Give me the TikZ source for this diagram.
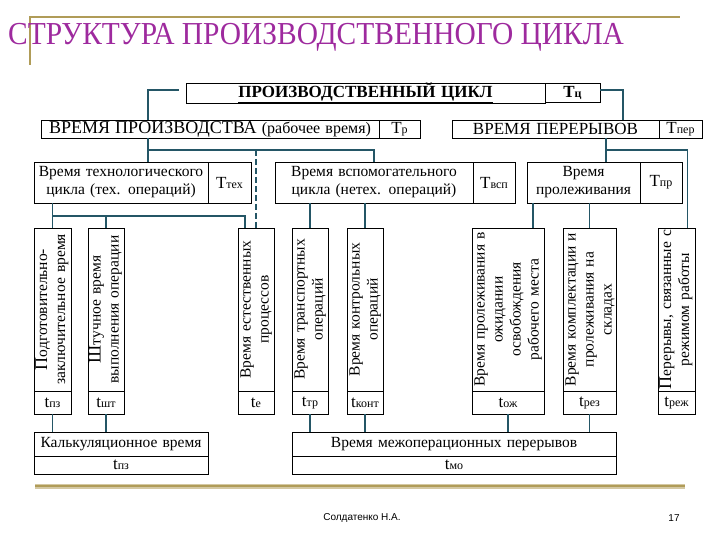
\documentclass[tikz,border=0pt]{standalone}
\usepackage{fontspec}
\usepackage{graphicx}
\setmainfont{Liberation Serif}
\newfontfamily\footfont{Liberation Sans}
\usetikzlibrary{positioning}

\definecolor{linkblue}{RGB}{36,86,102}
\definecolor{framegold}{RGB}{176,156,88}
\definecolor{titlepink}{RGB}{158,42,158}

\newcommand{\tsub}[2]{{\fontsize{17}{18}\selectfont #1}{\fontsize{12}{14}\selectfont #2}}
\newcommand{\vlab}[1]{\rotatebox{90}{\begin{tabular}{@{}c@{}}#1\end{tabular}}}
\newcommand{\bigfirst}[1]{{\fontsize{18}{18}\selectfont #1}}

\begin{document}
\begin{tikzpicture}
		[
		x=1pt, y=-1pt,
		font=\fontsize{15.5}{18}\selectfont,
		cell/.style 2 args={rectangle, draw=black, line width=0.8pt, fill=white, inner sep=0pt, outer sep=0pt, align=center, text width=#1, minimum height=#2},
		link/.style={draw=linkblue, line width=1.8pt},
		capsfont/.style={font=\fontsize{17}{18}\selectfont}
		]
		\useasboundingbox (0,0) rectangle (720,540);
		% frame and title
		\draw[framegold, line width=1.5pt] (30,65) -- (30,17) -- (680,17);
		\draw[framegold!55, line width=5pt] (35,486) -- (685,486);
		\draw[framegold, line width=2.5pt] (35,486) -- (685,486);
		\node[anchor=base west, inner sep=0pt, text=titlepink, font=\fontsize{32}{36}\selectfont] (title) at (8,45) {\scalebox{0.92}[1]{СТРУКТУРА ПРОИЗВОДСТВЕННОГО ЦИКЛА}};
		% upper levels
		\node[cell={359pt}{19pt}, anchor=north west, font=\fontsize{17}{18}\selectfont\bfseries] (pc) at (186,83) {\underline{ПРОИЗВОДСТВЕННЫЙ ЦИКЛ}};
		\node[cell={55pt}{19pt}, right=0pt of pc, font=\fontsize{16}{18}\selectfont\bfseries] (tc) {\tsub{T}{ц}};
		\node[cell={338pt}{18pt}, anchor=north west] (tp) at (41,120) {{\fontsize{18}{18}\selectfont ВРЕМЯ ПРОИЗВОДСТВА} {\fontsize{16}{18}\selectfont (рабочее время)}};
		\node[cell={41pt}{18pt}, right=0pt of tp] (ttp) {\tsub{T}{р}};
		\node[cell={207pt}{18pt}, anchor=north west, capsfont] (tpe) at (452,120) {ВРЕМЯ ПЕРЕРЫВОВ};
		\node[cell={43pt}{18pt}, right=0pt of tpe] (ttpe) {\tsub{T}{пер}};
		\node[cell={174pt}{41pt}, anchor=north west] (tex) at (34,162) {Время технологического\\цикла (тех. операций)};
		\node[cell={43pt}{41pt}, right=0pt of tex] (ttex) {\tsub{T}{тех}};
		\node[cell={198pt}{41pt}, anchor=north west] (vsp) at (275,162) {Время вспомогательного\\цикла (нетех. операций)};
		\node[cell={42pt}{41pt}, right=0pt of vsp] (tvsp) {\tsub{T}{всп}};
		\node[cell={113pt}{41pt}, anchor=north west] (prl) at (527,162) {Время\\пролеживания};
		\node[cell={42pt}{41pt}, right=0pt of prl] (tprl) {\tsub{T}{пр}};
		% elements of the cycle
		\node[cell={37pt}{163pt}, anchor=north west] (v1) at (34,228) {\vlab{\bigfirst{П}одготовительно-\\заключительное время}};
		\node[cell={37pt}{23pt}, below=0pt of v1] (t1) {\tsub{t}{пз}};
		\node[cell={36pt}{163pt}, anchor=north west] (v2) at (88,228) {\vlab{\bigfirst{Ш}тучное время\\выполнения операции}};
		\node[cell={36pt}{23pt}, below=0pt of v2] (t2) {\tsub{t}{шт}};
		\node[cell={36pt}{163pt}, anchor=north west] (v3) at (238,228) {\vlab{Время естественных\\процессов}};
		\node[cell={36pt}{23pt}, below=0pt of v3] (t3) {\tsub{t}{е}};
		\node[cell={36pt}{163pt}, anchor=north west] (v4) at (292,228) {\vlab{Время транспортных\\операций}};
		\node[cell={36pt}{23pt}, below=0pt of v4] (t4) {\tsub{t}{тр}};
		\node[cell={36pt}{163pt}, anchor=north west] (v5) at (347,228) {\vlab{Время контрольных\\операций}};
		\node[cell={36pt}{23pt}, below=0pt of v5] (t5) {\tsub{t}{конт}};
		\node[cell={72pt}{163pt}, anchor=north west] (v6) at (472,228) {\vlab{Время пролеживания в\\ожидании\\освобождения\\рабочего места}};
		\node[cell={72pt}{23pt}, below=0pt of v6] (t6) {\tsub{t}{ож}};
		\node[cell={53pt}{163pt}, anchor=north west] (v7) at (563,228) {\vlab{Время комплектации и\\пролеживания на\\складах}};
		\node[cell={53pt}{23pt}, below=0pt of v7] (t7) {\tsub{t}{рез}};
		\node[cell={37pt}{163pt}, anchor=north west] (v8) at (658,228) {\vlab{\bigfirst{П}ерерывы, связанные с\\режимом работы}};
		\node[cell={37pt}{23pt}, below=0pt of v8] (t8) {\tsub{t}{реж}};
		% sums
		\node[cell={174pt}{24pt}, anchor=north west] (kalk) at (34,432) {Калькуляционное время};
		\node[cell={174pt}{18pt}, below=0pt of kalk] (tkalk) {\tsub{t}{пз}};
		\node[cell={324pt}{24pt}, anchor=north west] (mo) at (292,432) {Время межоперационных перерывов};
		\node[cell={324pt}{18pt}, below=0pt of mo] (tmo) {\tsub{t}{мо}};
		% footer
		\node[font=\footfont\fontsize{10}{12}\selectfont] (author) at (362,518) {Солдатенко Н.А.};
		\node[font=\footfont\fontsize{10}{12}\selectfont] (page) at (674,518) {17};
		% connectors from the whole cycle
		\coordinate (lk) at (148,90);
		\coordinate (rk) at (623,90);
		\draw[link] ([xshift=-7pt]pc.west |- lk) -- (lk) -- (lk |- tp.north);
		\draw[link] (lk |- tp.south) -- (lk |- tex.north);
		\draw[link] (tc.east |- rk) -- (rk) -- (rk |- tpe.north);
		% production time
		\coordinate (lb) at (148,150);
		\draw[link] (lb) -| (vsp.north);
		\draw[link, dash pattern=on 6pt off 3pt] (lb -| v3.north) -- (v3.north);
		% technological cycle
		\coordinate (tb) at (53,216);
		\draw[link] (tex.south -| v1.north) -- (v1.north);
		\draw[link] (tb) -| ([xshift=-11pt]v3.north);
		\draw[link] (tb -| v2.north) -- (v2.north);
		% auxiliary cycle
		\draw[link] (vsp.south -| v4.north) -- (v4.north);
		\draw[link] (vsp.south -| v5.north) -- (v5.north);
		% breaks
		\coordinate (rb) at (606,150);
		\draw[link] (rb |- tpe.south) -- (rb |- prl.north);
		\draw[link] (rb) -| ([xshift=11pt]v8.north);
		\draw[link] ([xshift=25pt]v6.north |- prl.south) -- ([xshift=25pt]v6.north);
		\draw[link] (prl.south -| v7.north) -- (v7.north);
		% down to the sums
		\foreach \tn in {t1,t2} \draw[link] (\tn.south) -- (\tn.south |- kalk.north);
		\foreach \tn in {t4,t5,t6,t7} \draw[link] (\tn.south) -- (\tn.south |- mo.north);
	\end{tikzpicture}
\end{document}
